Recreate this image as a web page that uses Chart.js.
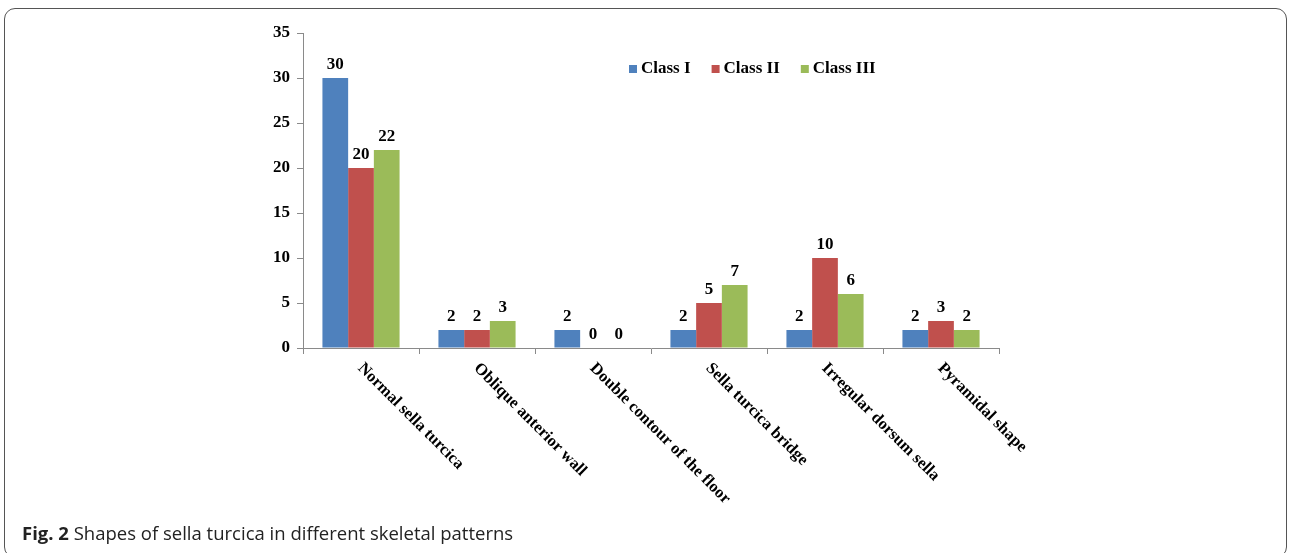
<!DOCTYPE html>
<html>
<head>
<meta charset="utf-8">
<script src="https://cdn.jsdelivr.net/npm/chart.js@4.4.1/dist/chart.umd.min.js"></script>
<style>
  html, body { margin: 0; padding: 0; background: #fff; }
  body { width: 1290px; height: 553px; position: relative; overflow: hidden; }
  #frame {
    position: absolute; left: 4px; top: 8px; width: 1283px; height: 550px;
    border: 1.5px solid #555; border-radius: 11px; box-sizing: border-box;
  }
  #wrap { position: absolute; left: 0; top: 0; width: 1290px; height: 553px; }
  #caption {
    position: absolute; left: 22px; top: 520px;
    font-family: "Open Sans", sans-serif; font-size: 18.5px; color: #222;
  }
  #caption b { font-weight: 700; }
</style>
</head>
<body>
<div id="frame"></div>
<div id="wrap"><canvas id="chart"></canvas></div>
<div id="caption"><b>Fig. 2</b> Shapes of sella turcica in different skeletal patterns</div>
<script>
  const categories = ['Normal sella turcica', 'Oblique anterior wall', 'Double contour of the floor',
                      'Sella turcica bridge', 'Irregular dorsum sella', 'Pyramidal shape'];
  const classI   = [30, 2, 2, 2, 2, 2];
  const classII  = [20, 2, 0, 5, 10, 3];
  const classIII = [22, 3, 0, 7, 6, 2];
  const yTicks   = [0, 5, 10, 15, 20, 25, 30, 35];

  const serif = '"Liberation Serif", "Times New Roman", serif';
  const axisGray = '#8a8a8a';

  // value labels above each bar
  const valueLabels = {
    id: 'valueLabels',
    afterDatasetsDraw(chart) {
      const ctx = chart.ctx;
      ctx.save();
      ctx.font = 'bold 17px ' + serif;
      ctx.fillStyle = '#000';
      ctx.textAlign = 'center';
      ctx.textBaseline = 'bottom';
      chart.data.datasets.forEach((ds, i) => {
        chart.getDatasetMeta(i).data.forEach((bar, j) => {
          ctx.fillText(ds.data[j], bar.x, bar.y - 5);
        });
      });
      ctx.restore();
    }
  };

  // slanted category labels, running down to the right from each tick
  const slantLabels = {
    id: 'slantLabels',
    afterDraw(chart) {
      const ctx = chart.ctx;
      const x = chart.scales.x;
      ctx.save();
      ctx.font = 'bold 16.5px ' + serif;
      ctx.fillStyle = '#000';
      ctx.textAlign = 'left';
      ctx.textBaseline = 'top';
      categories.forEach((c, i) => {
        ctx.save();
        ctx.translate(x.getPixelForValue(i) + 5, x.top + 12);
        ctx.rotate(Math.PI / 4);
        ctx.fillText(c, 0, 0);
        ctx.restore();
      });
      ctx.restore();
    }
  };

  // legend inside the plot area
  const innerLegend = {
    id: 'innerLegend',
    afterDraw(chart) {
      const ctx = chart.ctx;
      ctx.save();
      ctx.font = 'bold 17px ' + serif;
      ctx.textBaseline = 'middle';
      let lx = 629;
      const ly = 69;
      chart.data.datasets.forEach(ds => {
        ctx.fillStyle = ds.backgroundColor;
        ctx.fillRect(lx, ly - 4, 8, 8);
        ctx.fillStyle = '#000';
        ctx.fillText(ds.label, lx + 12, ly);
        lx += 12 + ctx.measureText(ds.label).width + 21;
      });
      ctx.restore();
    }
  };

  new Chart(document.getElementById('chart'), {
    type: 'bar',
    data: {
      labels: categories,
      datasets: [
        { label: 'Class I',   data: classI,   backgroundColor: '#4f81bd' },
        { label: 'Class II',  data: classII,  backgroundColor: '#c0504d' },
        { label: 'Class III', data: classIII, backgroundColor: '#9bbb59' },
      ]
    },
    options: {
      responsive: true,
      maintainAspectRatio: false,
      animation: false,
      layout: { padding: { left: 243, right: 291, top: 33, bottom: 199 } },
      datasets: { bar: { categoryPercentage: 0.665, barPercentage: 1 } },
      plugins: { legend: { display: false }, tooltip: { enabled: false } },
      scales: {
        x: {
          ticks: { display: false },
          grid: { drawOnChartArea: false, drawTicks: true, tickLength: 6, color: axisGray, offset: true },
          border: { color: axisGray, width: 1 },
          afterFit: s => { s.height = 6; }
        },
        y: {
          min: 0, max: 35,
          afterBuildTicks: s => { s.ticks = yTicks.map(v => ({ value: v })); },
          ticks: { color: '#000', padding: 7, font: { family: serif, size: 17, weight: 'bold' } },
          grid: { drawOnChartArea: false, drawTicks: true, tickLength: 6, color: axisGray },
          border: { color: axisGray, width: 1 },
          afterFit: s => { s.width = 60; }
        }
      }
    },
    plugins: [valueLabels, slantLabels, innerLegend]
  });
</script>
</body>
</html>
